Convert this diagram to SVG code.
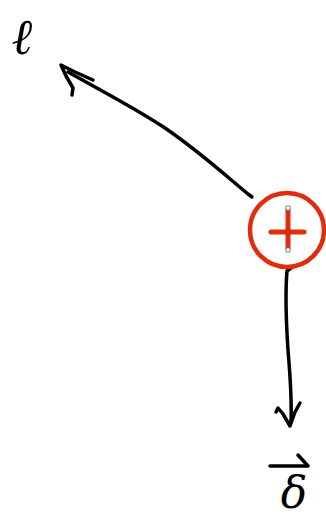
<svg xmlns="http://www.w3.org/2000/svg" width="326" height="519" viewBox="0 0 326 519">
<style>
.ink{fill:none;stroke:#000;stroke-width:3.5;stroke-linecap:round;stroke-linejoin:round}
.lbl{font-family:"DejaVu Serif","Liberation Serif",serif;fill:#000}
.handle{fill:#fff;stroke:#888;stroke-width:1}
</style>
<rect width="326" height="519" fill="#fff"/>
<g id="connectors">
<path class="ink" d="M252,197 L248,194 C225,175 200,152 165,128 C135,108 100,90 68,72"/>
<path class="ink" d="M93,80 L75,72 L61,65 L66,76 L73,88 L72,95"/>
<path class="ink" d="M291,268 L287,271 C285,295 286,320 288,350 C290,375 292,395 291,422"/>
<path class="ink" d="M276,412 L278,408 L283,414 L290,426 L295,412 L300,403"/>
</g>
<g id="plus-node">
<circle cx="287" cy="230" r="37" fill="none" stroke="#e02d0b" stroke-width="4.5"/>
<line x1="288" y1="208" x2="288" y2="250" stroke="#e02d0b" stroke-width="5"/>
<line x1="271" y1="232" x2="304" y2="232" stroke="#e02d0b" stroke-width="5" stroke-linecap="round"/>
<rect class="handle" x="286" y="206" width="4" height="4"/>
<rect class="handle" x="286" y="248" width="4" height="4"/>
</g>
<g id="label-top">
<text class="lbl" x="22" y="54" font-size="50" font-style="italic" text-anchor="middle">ℓ</text>
</g>
<g id="label-bottom">
<path class="ink" d="M270,466 L308,466 L298,455"/>
<text class="lbl" x="294" y="508" font-size="44" font-style="italic" text-anchor="middle">δ</text>
</g>
</svg>
